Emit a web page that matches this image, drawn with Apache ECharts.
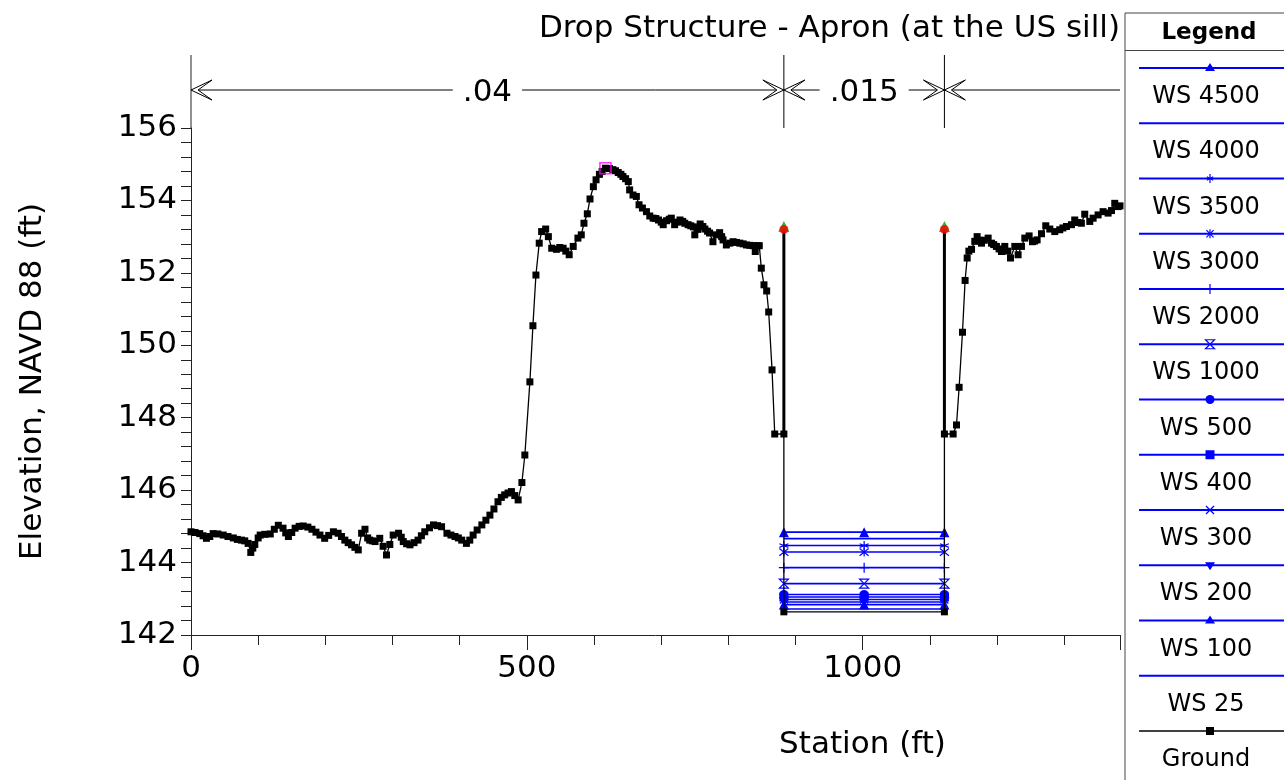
<!DOCTYPE html>
<html><head><meta charset="utf-8">
<script src="https://cdn.jsdelivr.net/npm/echarts@6/dist/echarts.min.js"></script>
<style>html,body{margin:0;padding:0;background:#fff}#c{width:1284px;height:780px}</style>
</head><body><div id="c"></div>
<script>
// ---------------- DATA ----------------
const groundStation = [
  0, 6, 13, 18, 23, 28, 33, 40, 48, 55, 63, 69, 75, 80, 85, 89, 92, 95, 100, 103,
  110, 118, 124, 130, 137, 141, 145, 150, 155, 161, 167, 174, 180, 186, 192, 199, 205, 212, 219, 224,
  229, 234, 239, 244, 249, 254, 259, 263, 266, 270, 274, 281, 286, 291, 296, 301, 309, 313, 316, 321,
  326, 332, 338, 343, 348, 355, 361, 367, 373, 381, 387, 393, 398, 403, 410, 415, 420, 426, 433, 439,
  445, 451, 457, 462, 467, 472, 477, 482, 487, 492.6, 497, 504.5, 509, 513.5, 518.4, 522, 528, 532, 537, 544,
  549, 554, 558, 563, 569, 576, 581, 585, 590, 594, 599, 603, 608, 612, 617, 623, 628, 632, 636, 640,
  643, 647, 651, 653, 658, 663, 667, 672, 678, 683, 688, 692, 696, 700, 703, 708, 712, 715, 720, 724,
  728, 732, 735, 740, 744, 748, 750, 754, 758, 762, 765, 769, 772, 777, 782, 787, 790, 792, 797, 802,
  807, 812, 817, 822, 827, 832, 837, 840, 843, 846, 849, 853, 857, 860, 865, 869, 882.6, 882.6,
  1121.6, 1121.6, 1134.6, 1139.6, 1143.5, 1148.5, 1152.4, 1155.5, 1158, 1162, 1166.8, 1170.3, 1174, 1176.8, 1181, 1186.7,
  1191.7, 1195, 1199, 1203, 1206.6, 1211.5, 1216, 1220, 1226.4, 1231.3, 1236.3, 1241.3, 1247.7, 1252.7, 1256, 1259.6,
  1266.1, 1272.5, 1278.5, 1285.9, 1293.3, 1298, 1303.3, 1310.7, 1315.6, 1320.6, 1325.5, 1330.5, 1338, 1343, 1350.4, 1357.8,
  1365.3, 1370.3, 1375.2, 1380.2, 1383
];
const groundElevation = [
  144.85, 144.83, 144.80, 144.74, 144.67, 144.72, 144.80, 144.79, 144.76, 144.72, 144.68, 144.64, 144.62, 144.60, 144.53, 144.28, 144.40, 144.50, 144.68, 144.76,
  144.78, 144.79, 144.92, 145.03, 144.95, 144.82, 144.72, 144.83, 144.95, 145.00, 145.01, 144.98, 144.92, 144.84, 144.76, 144.67, 144.75, 144.85, 144.81, 144.72,
  144.62, 144.55, 144.49, 144.42, 144.35, 144.81, 144.92, 144.68, 144.62, 144.60, 144.58, 144.67, 144.45, 144.21, 144.50, 144.76, 144.81, 144.70, 144.58, 144.52,
  144.49, 144.55, 144.62, 144.74, 144.85, 144.96, 145.04, 145.02, 144.99, 144.81, 144.76, 144.72, 144.68, 144.62, 144.53, 144.62, 144.76, 144.90, 145.04, 145.17,
  145.31, 145.48, 145.68, 145.80, 145.87, 145.92, 145.96, 145.85, 145.73, 146.21, 146.97, 148.99, 150.54, 151.94, 152.82, 153.14, 153.21, 153.00, 152.68, 152.65,
  152.70, 152.68, 152.60, 152.50, 152.73, 152.96, 153.05, 153.37, 153.63, 154.04, 154.38, 154.57, 154.72, 154.80, 154.89, 154.88, 154.85, 154.82, 154.77, 154.72,
  154.66, 154.60, 154.52, 154.29, 154.15, 154.11, 153.88, 153.79, 153.69, 153.57, 153.51, 153.50, 153.46, 153.40, 153.33, 153.44, 153.48, 153.51, 153.33, 153.40,
  153.46, 153.42, 153.37, 153.33, 153.30, 153.27, 153.05, 153.20, 153.35, 153.28, 153.21, 153.15, 153.10, 152.86, 153.05, 153.11, 153.00, 152.91, 152.77, 152.82,
  152.86, 152.84, 152.82, 152.80, 152.77, 152.76, 152.75, 152.59, 152.75, 152.75, 152.13, 151.67, 151.50, 150.92, 149.32, 147.55, 147.55, 142.64,
  142.64, 147.55, 147.55, 147.80, 148.84, 150.36, 151.79, 152.41, 152.60, 152.65, 152.87, 153.00, 152.90, 152.82, 152.90, 152.96,
  152.82, 152.78, 152.73, 152.66, 152.59, 152.73, 152.60, 152.41, 152.73, 152.50, 152.73, 152.96, 153.02, 152.86, 152.88, 152.91,
  153.08, 153.30, 153.21, 153.14, 153.19, 153.24, 153.28, 153.33, 153.46, 153.39, 153.37, 153.62, 153.42, 153.51, 153.60, 153.69,
  153.65, 153.72, 153.92, 153.83, 153.85
];
const bankStations = [882.6, 1121.6];
const wallBaseElevation = [147.55, 147.55];
const leveeElevation = [153.2, 153.2];
const wsNames = ['WS 4500', 'WS 4000', 'WS 3500', 'WS 3000', 'WS 2000', 'WS 1000', 'WS 500', 'WS 400', 'WS 300', 'WS 200', 'WS 100', 'WS 25'];
const wsElevations = [144.84, 144.66, 144.47, 144.29, 143.86, 143.42, 143.12, 143.05, 142.98, 142.91, 142.84, 142.72];
const nBreakStations = [0, 882.6, 1121.6, 1383];
const nValues = ['.04', '.015'];
const xTicks = { min: 0, max: 1383, interval: 500 };
const yTicks = { min: 142, max: 156, interval: 2 };
const titleText = 'Drop Structure - Apron (at the US sill)';
const xName = 'Station (ft)';
const yName = 'Elevation, NAVD 88 (ft)';

// ---------------- STYLE ----------------
const FONT = 'DejaVu Sans';
const BLUE = '#0000ff';
const GRID = { left: 191, right: 164, top: 128, bottom: 145 };
const wsStyle = {
  'WS 4500': { symbol: 'triangle', size: 10 },
  'WS 4000': { symbol: 'none' },
  'WS 3500': { symbol: 'path://M5,0L5,10M1.5,3L8.5,7M8.5,3L1.5,7', size: 9, stroke: true },
  'WS 3000': { symbol: 'path://M1,1L9,9M9,1L1,9M5,0L5,10', size: 9, stroke: true },
  'WS 2000': { symbol: 'path://M5,0L5,10M2,5L8,5', size: 10, stroke: true },
  'WS 1000': { symbol: 'path://M0,0L10,0L0,10L10,10Z', size: 9, hollow: true },
  'WS 500': { symbol: 'circle', size: 9 },
  'WS 400': { symbol: 'rect', size: 9 },
  'WS 300': { symbol: 'path://M0,0L10,10M10,0L0,10', size: 8, stroke: true },
  'WS 200': { symbol: 'triangle', size: 10, rotate: 180 },
  'WS 100': { symbol: 'triangle', size: 10 },
  'WS 25': { symbol: 'none' }
};

const chart = echarts.init(document.getElementById('c'), null, { renderer: 'canvas' });

const groundData = groundStation.map((s, i) => [s, groundElevation[i]]);
let maxIdx = 0;
groundElevation.forEach((v, i) => { if (v > groundElevation[maxIdx]) maxIdx = i; });
const midStation = (bankStations[0] + bankStations[1]) / 2;

const wsSeries = wsNames.map((name, i) => {
  const st = wsStyle[name];
  return {
    type: 'line', name, silent: true, animation: false, z: 3,
    data: [[bankStations[0], wsElevations[i]], [midStation, wsElevations[i]], [bankStations[1], wsElevations[i]]],
    symbol: st.symbol, symbolSize: st.size || 0, symbolRotate: st.rotate || 0,
    showSymbol: st.symbol !== 'none',
    lineStyle: { color: BLUE, width: 1.6 },
    itemStyle: { color: st.hollow ? '#ffffff' : BLUE, borderColor: BLUE, borderWidth: (st.stroke || st.hollow) ? 1.2 : 0 }
  };
});

const wallSeries = bankStations.map((s, i) => ({
  type: 'line', silent: true, animation: false, z: 5, symbol: 'none',
  data: [[s, wallBaseElevation[i]], [s, leveeElevation[i]]],
  lineStyle: { color: '#000', width: 3 }
}));

const axisLabelStyle = { fontFamily: FONT, fontSize: 31, color: '#000' };

chart.setOption({
  animation: false,
  backgroundColor: '#fff',
  title: {
    text: titleText, right: GRID.right, top: 13, padding: 0,
    textStyle: { fontFamily: FONT, fontSize: 31, fontWeight: 'normal', color: '#000' }
  },
  grid: GRID,
  xAxis: {
    type: 'value', min: xTicks.min, max: xTicks.max, interval: xTicks.interval,
    name: xName, nameLocation: 'middle', nameGap: 94,
    nameTextStyle: { fontFamily: FONT, fontSize: 31, color: '#000', padding: [0, 0, 0, 414] },
    axisLine: { lineStyle: { color: '#222', width: 1 } },
    axisTick: { length: 15, lineStyle: { color: '#222' } },
    minorTick: { show: true, splitNumber: 5, length: 10, lineStyle: { color: '#222' } },
    axisLabel: Object.assign({ margin: 18, showMaxLabel: false, formatter: v => String(v) }, axisLabelStyle),
    splitLine: { show: false }
  },
  yAxis: {
    type: 'value', min: yTicks.min, max: yTicks.max, interval: yTicks.interval,
    name: yName, nameLocation: 'middle', nameGap: 143,
    nameTextStyle: { fontFamily: FONT, fontSize: 31, color: '#000' },
    axisLine: { show: true, lineStyle: { color: '#222', width: 1 } },
    axisTick: { show: true, length: 10, lineStyle: { color: '#222' } },
    minorTick: { show: true, splitNumber: 5, length: 10, lineStyle: { color: '#222' } },
    axisLabel: Object.assign({ margin: 14, formatter: v => String(v) }, axisLabelStyle),
    splitLine: { show: false }
  },
  series: [
    ...wsSeries,
    {
      type: 'line', name: 'Ground', silent: true, z: 4, data: groundData,
      symbol: 'rect', symbolSize: 7, showSymbol: true,
      lineStyle: { color: '#000', width: 1.3 }, itemStyle: { color: '#000' }
    },
    ...wallSeries,
    {
      type: 'scatter', silent: true, z: 6, symbol: 'rect', symbolSize: 11,
      data: [groundData[maxIdx]],
      itemStyle: { color: 'rgba(0,0,0,0)', borderColor: '#ff00ff', borderWidth: 1.6 }
    },
    {
      type: 'scatter', silent: true, z: 6, symbol: 'triangle', symbolSize: 11, symbolOffset: [0, -3],
      data: bankStations.map((s, i) => [s, leveeElevation[i]]),
      itemStyle: { color: '#00a000' }
    },
    {
      type: 'scatter', silent: true, z: 7, symbol: 'circle', symbolSize: 9,
      data: bankStations.map((s, i) => [s, leveeElevation[i]]),
      itemStyle: { color: '#ff0000' }
    }
  ]
});

// ---------------- ANNOTATIONS (n-value band + legend) ----------------
const px = s => chart.convertToPixel({ xAxisIndex: 0 }, s);
const bandTop = 55, bandY = 90;
const g = [];
g.push({ type: 'line', shape: { x1: px(0), y1: bandTop, x2: px(0), y2: GRID.top }, style: { stroke: '#222', lineWidth: 1 }, z: 10 });
g.push({ type: 'line', shape: { x1: px(nBreakStations[0]), y1: bandY, x2: px(nBreakStations[nBreakStations.length - 1]), y2: bandY }, style: { stroke: '#000', lineWidth: 1 }, z: 10 });
for (let i = 1; i < nBreakStations.length - 1; i++) {
  const x = px(nBreakStations[i]);
  g.push({ type: 'line', shape: { x1: x, y1: bandTop, x2: x, y2: GRID.top }, style: { stroke: '#000', lineWidth: 1 }, z: 10 });
}
function dart(tipX, dir) {
  return { type: 'polygon', z: 11, shape: { points: [[tipX, bandY], [tipX + dir * 21, bandY - 10], [tipX + dir * 7, bandY], [tipX + dir * 21, bandY + 10]] },
    style: { fill: '#fff', stroke: '#000', lineWidth: 1 } };
}
g.push(dart(px(nBreakStations[0]), 1));
for (let i = 1; i < nBreakStations.length - 1; i++) {
  const x = px(nBreakStations[i]);
  g.push(dart(x, -1)); g.push(dart(x, 1));
}
nValues.forEach((t, i) => {
  if (!t) return;
  const cx = (px(nBreakStations[i]) + px(nBreakStations[i + 1])) / 2;
  g.push({ type: 'text', z: 12, x: cx, y: bandY + 3,
    style: { text: t, fontFamily: FONT, fontSize: 31, fill: '#000', align: 'center', verticalAlign: 'middle', backgroundColor: '#fff', padding: [0, 10] } });
});

// legend panel
const LX = 1125, LY = 13, rowH = 55.25, firstLineY = 68, firstTextY = 97, markX = 1210, textX = 1206;
g.push({ type: 'rect', z: 20, shape: { x: LX, y: LY, width: 200, height: 800 }, style: { fill: '#fff', stroke: '#444', lineWidth: 1 } });
g.push({ type: 'line', z: 21, shape: { x1: LX, y1: 50.5, x2: 1284, y2: 50.5 }, style: { stroke: '#444', lineWidth: 1 } });
g.push({ type: 'text', z: 21, x: 1209, y: 33, style: { text: 'Legend', fontFamily: FONT, fontSize: 23, fontWeight: 'bold', fill: '#000', align: 'center', verticalAlign: 'middle' } });

function legendMarker(name, cx, cy, color) {
  const st = wsStyle[name] || { symbol: 'rect', size: 8 };
  const s = (st.size || 0) / 2;
  const line = (x1, y1, x2, y2) => ({ type: 'line', z: 22, shape: { x1, y1, x2, y2 }, style: { stroke: color, lineWidth: 1.2 } });
  if (name === 'Ground') return [{ type: 'rect', z: 22, shape: { x: cx - 4, y: cy - 4, width: 8, height: 8 }, style: { fill: color } }];
  switch (name) {
    case 'WS 4500': case 'WS 100':
      return [{ type: 'polygon', z: 22, shape: { points: [[cx, cy - s], [cx + s, cy + s * 0.6], [cx - s, cy + s * 0.6]] }, style: { fill: color } }];
    case 'WS 200':
      return [{ type: 'polygon', z: 22, shape: { points: [[cx, cy + s], [cx + s, cy - s * 0.6], [cx - s, cy - s * 0.6]] }, style: { fill: color } }];
    case 'WS 3500':
      return [line(cx, cy - s, cx, cy + s), line(cx - s * 0.7, cy - s * 0.4, cx + s * 0.7, cy + s * 0.4), line(cx + s * 0.7, cy - s * 0.4, cx - s * 0.7, cy + s * 0.4)];
    case 'WS 3000':
      return [line(cx - s * 0.8, cy - s * 0.8, cx + s * 0.8, cy + s * 0.8), line(cx + s * 0.8, cy - s * 0.8, cx - s * 0.8, cy + s * 0.8), line(cx, cy - s, cx, cy + s)];
    case 'WS 2000':
      return [line(cx, cy - s, cx, cy + s)];
    case 'WS 1000':
      return [{ type: 'polygon', z: 22, shape: { points: [[cx - s, cy - s], [cx + s, cy - s], [cx - s, cy + s], [cx + s, cy + s]] }, style: { fill: '#fff', stroke: color, lineWidth: 1.2 } }];
    case 'WS 500':
      return [{ type: 'circle', z: 22, shape: { cx, cy, r: s }, style: { fill: color } }];
    case 'WS 400':
      return [{ type: 'rect', z: 22, shape: { x: cx - s, y: cy - s, width: 2 * s, height: 2 * s }, style: { fill: color } }];
    case 'WS 300':
      return [line(cx - s, cy - s, cx + s, cy + s), line(cx + s, cy - s, cx - s, cy + s)];
    default: return [];
  }
}
const legendNames = wsNames.concat(['Ground']);
legendNames.forEach((name, i) => {
  const ly = firstLineY + i * rowH, ty = firstTextY + i * rowH;
  const color = name === 'Ground' ? '#000' : BLUE;
  g.push({ type: 'line', z: 21, shape: { x1: 1139, y1: ly, x2: 1284, y2: ly }, style: { stroke: color, lineWidth: name === 'Ground' ? 1.5 : 2 } });
  legendMarker(name, markX, ly, color).forEach(e => g.push(e));
  g.push({ type: 'text', z: 21, x: textX, y: ty, style: { text: name, fontFamily: FONT, fontSize: 24, fill: '#000', align: 'center', verticalAlign: 'middle' } });
});

chart.setOption({ graphic: g });
</script>
</body></html>
